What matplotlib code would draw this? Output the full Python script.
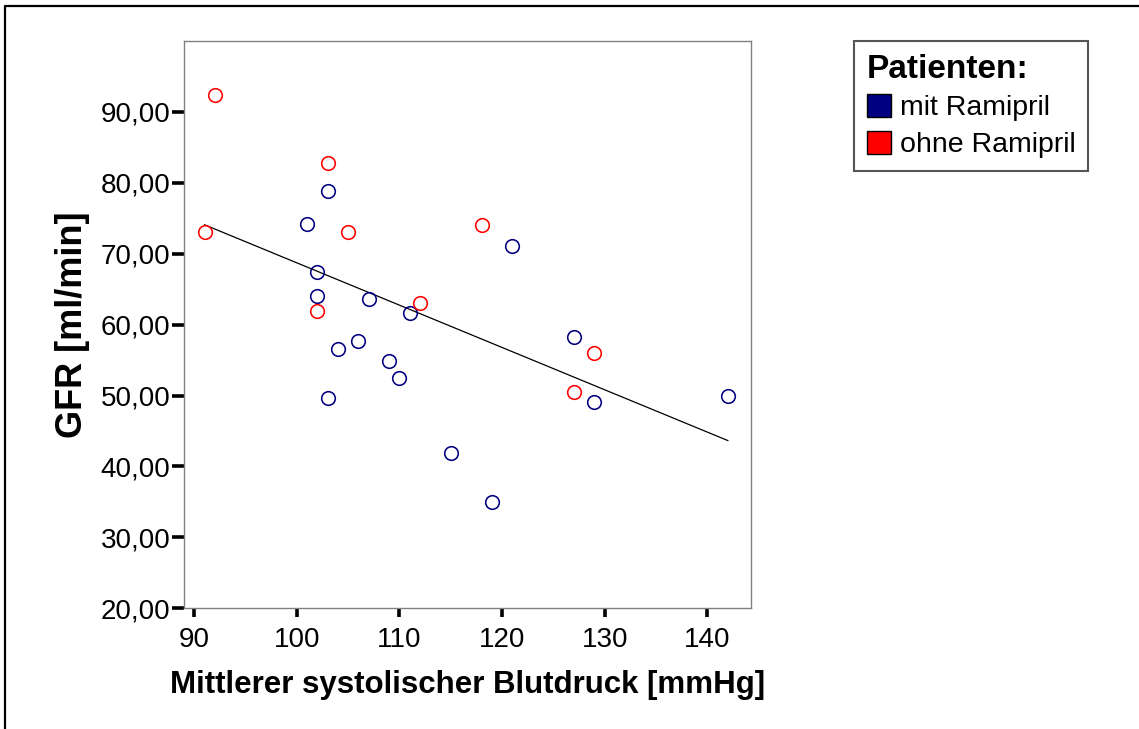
import numpy as np
import matplotlib
matplotlib.use('Agg')
import matplotlib.pyplot as plt
from matplotlib.patches import Patch
from matplotlib.lines import Line2D
from matplotlib.ticker import FuncFormatter

plt.rcParams['font.family'] = ['Liberation Sans', 'DejaVu Sans']

# Mittlerer systolischer Blutdruck [mmHg] und GFR [ml/min]
bp_mit = [101, 103, 102, 102, 107, 111, 106, 104, 109, 110, 103, 115, 119, 121, 127, 129, 142]
gfr_mit = [74.18, 78.83, 67.46, 64.04, 63.66, 61.61, 57.70, 56.62, 54.89, 52.49, 49.68,
           41.97, 35.03, 71.13, 58.31, 49.15, 49.96]

bp_ohne = [92, 91, 103, 105, 102, 112, 118, 129, 127]
gfr_ohne = [92.35, 73.06, 82.77, 73.06, 61.97, 63.01, 74.08, 56.01, 50.52]

groups = ['mit Ramipril', 'ohne Ramipril']
colors = ['#000080', '#ff0000']

W, H = 1139, 729
fig = plt.figure(figsize=(W / 100, H / 100), dpi=100)
ax = fig.add_axes([183.7 / W, 1 - 608.3 / H, (750.7 - 183.7) / W, (608.3 - 41) / H])

for xs, ys, c in [(bp_mit, gfr_mit, colors[0]), (bp_ohne, gfr_ohne, colors[1])]:
    ax.plot(xs, ys, linestyle='none', marker='o', markersize=9.8,
            markerfacecolor='none', markeredgecolor=c, markeredgewidth=1.15, zorder=3)

# Regressionsgerade über alle Patienten
x_all = np.array(bp_mit + bp_ohne, dtype=float)
y_all = np.array(gfr_mit + gfr_ohne)
slope, icpt = np.polyfit(x_all, y_all, 1)
xf = np.array([x_all.min(), x_all.max()])
ax.plot(xf, slope * xf + icpt, color='black', linewidth=0.9, zorder=2)

ax.set_xlim(88.97, 144.23)
ax.set_ylim(20, 100)
ax.set_xticks([90, 100, 110, 120, 130, 140])
ax.set_yticks([20, 30, 40, 50, 60, 70, 80, 90])
ax.yaxis.set_major_formatter(FuncFormatter(lambda v, p: f'{v:.2f}'.replace('.', ',')))

for s in ax.spines.values():
    s.set_color('#808080')
    s.set_linewidth(1.0)
ax.tick_params(axis='both', labelsize=20, color='black', width=2.6, direction='out')
ax.tick_params(axis='y', length=8.5, pad=1)
ax.tick_params(axis='x', length=6.5, pad=7)

ax.set_xlabel('Mittlerer systolischer Blutdruck [mmHg]', fontsize=22.5, fontweight='bold', labelpad=12)
ax.set_ylabel('GFR [ml/min]', fontsize=26, fontweight='bold', labelpad=8)

handles = [Patch(facecolor=c, edgecolor='black', linewidth=1.0) for c in colors]
leg = fig.legend(handles, groups, title='Patienten:', loc='upper left',
                 bbox_to_anchor=(854 / W, 1 - 41 / H), frameon=True, fancybox=False,
                 edgecolor='#555555', framealpha=1, fontsize=20.5,
                 title_fontproperties={'weight': 'bold', 'size': 24}, alignment='left',
                 handlelength=0.85, handleheight=0.85, handletextpad=0.3,
                 labelspacing=0.33, borderpad=0.45, borderaxespad=0)
leg.get_frame().set_linewidth(1.5)

# Rahmen oben und links
fig.add_artist(Line2D([5 / W, 5 / W, 1.0], [0.0, 1 - 6 / H, 1 - 6 / H],
                      transform=fig.transFigure, color='black', linewidth=1.6))

fig.savefig('out.png', dpi=100, facecolor='white')
